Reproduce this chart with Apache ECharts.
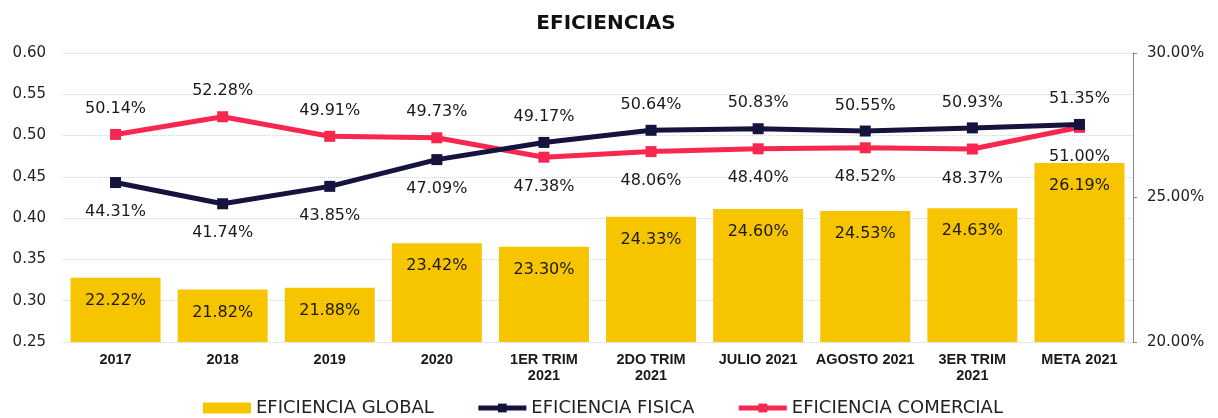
<!DOCTYPE html>
<html>
<head>
<meta charset="utf-8">
<title>Eficiencias</title>
<script src="https://cdn.jsdelivr.net/npm/echarts@6/dist/echarts.min.js"></script>
<style>
  html, body { margin: 0; padding: 0; background: #fff; }
  #chart { width: 1218px; height: 418px; }
</style>
</head>
<body>
<div id="chart"></div>
<script>
// categories and values
const categories = ["2017", "2018", "2019", "2020", "1ER TRIM\n2021", "2DO TRIM\n2021",
  "JULIO 2021", "AGOSTO 2021", "3ER TRIM\n2021", "META 2021"];
// eficiencia global, in percent (right axis)
const global = [22.22, 21.82, 21.88, 23.42, 23.30, 24.33, 24.60, 24.53, 24.63, 26.19];
// eficiencia fisica / comercial, as fractions (left axis)
const fisica = [0.4431, 0.4174, 0.4385, 0.4709, 0.4917, 0.5064, 0.5083, 0.5055, 0.5093, 0.5135];
const comercial = [0.5014, 0.5228, 0.4991, 0.4973, 0.4738, 0.4806, 0.4840, 0.4852, 0.4837, 0.5100];
const leftTicks = { min: 0.25, max: 0.60, interval: 0.05 };
const rightTicks = { min: 20, max: 30, interval: 5 };

const FONT = "DejaVu Sans";
const NAVY = "#15143f";
const RED = "#f7274f";
const pct = v => (v * 100).toFixed(2) + "%";

// put the label of the higher line above, the lower one below
function withLabels(values, other) {
  return values.map((v, i) => {
    const up = v >= other[i];
    return { value: v, label: { position: up ? "top" : "bottom", distance: up ? 12 : 16 } };
  });
}

const chart = echarts.init(document.getElementById("chart"));
chart.setOption({
  animation: false,
  textStyle: { fontFamily: FONT },
  title: {
    text: "EFICIENCIAS",
    left: 601,
    textAlign: "center",
    top: 9,
    textStyle: { fontFamily: FONT, fontSize: 20, fontWeight: "bold", color: "#111" }
  },
  grid: { left: 62, right: 85, top: 53, bottom: 76 },
  legend: {
    left: 198,
    top: 394,
    itemWidth: 48,
    itemHeight: 11,
    itemGap: 42,
    textStyle: { fontFamily: FONT, fontSize: 18, color: "#222" },
    data: [
      { name: "EFICIENCIA GLOBAL", icon: "rect" },
      { name: "EFICIENCIA FISICA", lineStyle: { width: 5 } },
      { name: "EFICIENCIA COMERCIAL", lineStyle: { width: 5 } }
    ]
  },
  xAxis: {
    type: "category",
    data: categories,
    axisLine: { show: false },
    axisTick: { show: false },
    axisLabel: {
      margin: 10, fontFamily: "Liberation Sans", fontWeight: "bold", fontSize: 14.5,
      color: "#1a1a1a", lineHeight: 16, interval: 0
    }
  },
  yAxis: [
    {
      type: "value",
      min: leftTicks.min,
      max: leftTicks.max,
      interval: leftTicks.interval,
      axisLine: { show: false },
      axisTick: { show: false },
      axisLabel: { margin: 16, fontFamily: FONT, fontSize: 15, color: "#222", formatter: v => v.toFixed(2) },
      splitLine: { lineStyle: { color: "#d4d4d4", type: "dotted" } }
    },
    {
      type: "value",
      position: "right",
      min: rightTicks.min,
      max: rightTicks.max,
      interval: rightTicks.interval,
      axisLine: { show: true, lineStyle: { color: "#888", width: 1 } },
      axisTick: { show: true, length: 4, lineStyle: { color: "#888" } },
      axisLabel: { margin: 14, fontFamily: FONT, fontSize: 15, color: "#222", formatter: v => v.toFixed(2) + "%" },
      splitLine: { show: false }
    }
  ],
  series: [
    {
      name: "EFICIENCIA GLOBAL",
      type: "bar",
      yAxisIndex: 1,
      data: global,
      barWidth: "84%",
      itemStyle: { color: "#f7c400" },
      label: {
        show: true,
        position: "insideTop",
        distance: 15,
        fontFamily: FONT,
        fontSize: 16,
        color: "#1a1a1a",
        formatter: p => p.value.toFixed(2) + "%"
      },
      z: 1
    },
    {
      name: "EFICIENCIA FISICA",
      type: "line",
      yAxisIndex: 0,
      data: withLabels(fisica, comercial),
      symbol: "rect",
      symbolSize: 11,
      color: NAVY,
      lineStyle: { width: 5, color: NAVY },
      label: { show: true, fontFamily: FONT, fontSize: 16, color: "#1a1a1a", formatter: p => pct(p.value) },
      z: 3
    },
    {
      name: "EFICIENCIA COMERCIAL",
      type: "line",
      yAxisIndex: 0,
      data: withLabels(comercial, fisica),
      symbol: "rect",
      symbolSize: 11,
      color: RED,
      lineStyle: { width: 5, color: RED },
      label: { show: true, fontFamily: FONT, fontSize: 16, color: "#1a1a1a", formatter: p => pct(p.value) },
      z: 2
    }
  ]
});
</script>
</body>
</html>
